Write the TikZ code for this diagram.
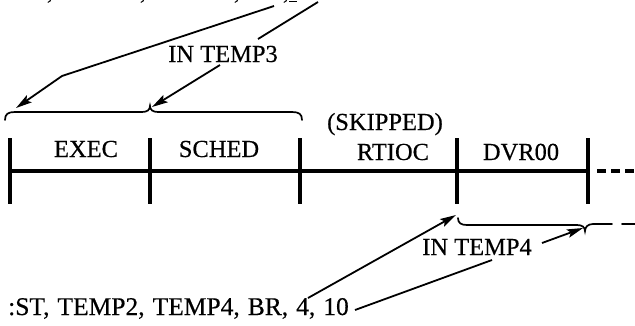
\documentclass[tikz,border=0pt]{standalone}
\usepackage{fontspec}
\setmainfont{Liberation Serif}[FakeBold=0.4,AutoFakeBold=0.4]
\usetikzlibrary{arrows.meta}
\begin{document}
\begin{tikzpicture}[x=1pt,y=-1pt,
  lbl/.style={anchor=base,inner sep=0pt,font=\fontsize{24.5}{28}\selectfont\bfseries},
  axisline/.style={line width=3.6pt},
  tickmark/.style={line width=3.2pt},
  ptr/.style={line width=1.8pt,line join=round},
  ptrhead/.style={ptr,-{Stealth[length=16pt,width=8.5pt,inset=3pt]}},
  bracepath/.style={line width=1.7pt,line cap=round}]
\useasboundingbox (0,0) rectangle (635,325);

% tails of the statement line above (cut off by the page edge)
\node[lbl] (c1) at (50,-1) {,};
\node[lbl] (c2) at (143,-1) {,};
\node[lbl] (c3) at (237,-1) {,};
\node[lbl] (c4) at (286,-1) {,};
\draw[line width=1.2pt] (289,1.5) -- (297,1.5);

% memory map axis
\coordinate (a0) at (10,171);
\coordinate (a4) at (588,171);
\coordinate (dstart) at (597,171);
\coordinate (dend) at (640,171);
\draw[axisline] (a0) -- (a4);
\draw[axisline,dash pattern=on 9pt off 5pt] (dstart) -- (dend);
\foreach \n/\x in {t0/10,t1/150,t2/300,t3/457,t4/588}{
  \coordinate (\n top) at (\x,138);
  \coordinate (\n bot) at (\x,204);
  \draw[tickmark] (\n top) -- (\n bot);
}

% module names
\node[lbl] (exec) at (86,157) {EXEC};
\node[lbl] (sched) at (219,157) {SCHED};
\node[lbl] (skip) at (385,130) {(SKIPPED)};
\node[lbl] (rtioc) at (393,160) {RTIOC};
\node[lbl] (dvr) at (521,160) {DVR00};

% upper brace over EXEC and SCHED
\draw[bracepath] (5,120) .. controls (5,114) and (8,112) .. (15,112)
  -- (142,112) .. controls (147,112) and (150,110) .. (150,106)
  .. controls (150,110) and (153,112) .. (158,112)
  -- (292,112) .. controls (299,112) and (302,114) .. (302,120);

% lower brace from DVR00 onwards
\draw[bracepath] (458,218) .. controls (458,223) and (461,225) .. (467,225)
  -- (577,225) .. controls (582,225) and (585,227) .. (585,231)
  .. controls (585,227) and (588,224) .. (593,224) -- (612,224);
\draw[bracepath] (622,224) -- (640,224);

% labels for the temporaries
\node[lbl] (temp3) at (223,62) {IN TEMP3};
\node[lbl] (temp4) at (477,255) {IN TEMP4};

% pointers from the statement above
\coordinate (p1) at (274,6);
\coordinate (p1k) at (62,76);
\coordinate (p1e) at (16,108);
\draw[ptrhead] (p1) -- (p1k) -- (p1e);
\coordinate (p2) at (318,2);
\coordinate (p2e) at (258,39);
\draw[ptr] (p2) -- (p2e);
\coordinate (p3) at (220,65);
\coordinate (p3e) at (152,107);
\draw[ptrhead] (p3) -- (p3e);

% statement below and its pointers
\node[lbl,anchor=base west,font=\fontsize{25.5}{29}\selectfont\bfseries] (stmt) at (8,315)
  {\spaceskip=8pt\relax :ST, TEMP2, TEMP4, BR, 4, 10};
\coordinate (q1) at (308,298);
\coordinate (q1e) at (456,215);
\draw[ptrhead] (q1) -- (q1e);
\coordinate (q2) at (355,310);
\coordinate (q2e) at (492,260);
\draw[ptr] (q2) -- (q2e);
\coordinate (q3) at (542,243);
\coordinate (q3e) at (583,228);
\draw[ptrhead] (q3) -- (q3e);
\end{tikzpicture}
\end{document}
